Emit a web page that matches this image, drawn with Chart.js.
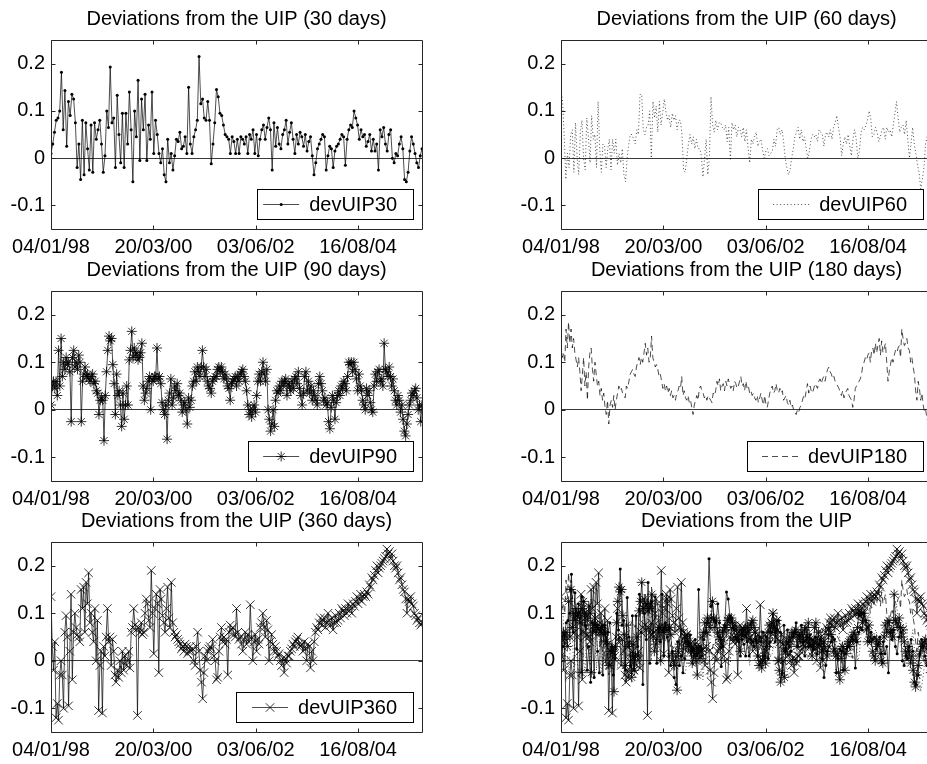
<!DOCTYPE html>
<html lang="en">
<head>
  <meta charset="UTF-8" />
  <title>Deviations from the UIP</title>
  <script src="https://cdn.jsdelivr.net/npm/chart.js"></script>
  <style>
    html, body { margin: 0; padding: 0; background: #fff; }
    body { width: 927px; height: 764px; position: relative; overflow: hidden; }
    canvas { position: absolute; }
  </style>
</head>
<body>
  <canvas id="p30" width="460" height="270" style="left:0;top:0"></canvas>
  <canvas id="p60" width="460" height="270" style="left:510px;top:0"></canvas>
  <canvas id="p90" width="460" height="270" style="left:0;top:251px"></canvas>
  <canvas id="p180" width="460" height="270" style="left:510px;top:251px"></canvas>
  <canvas id="p360" width="460" height="270" style="left:0;top:502px"></canvas>
  <canvas id="pall" width="460" height="270" style="left:510px;top:502px"></canvas>

  <script>
    // sample runs from SERIES_START to SERIES_END, equally spaced
    const SERIES_START = '04/01/98';
    const SERIES_END = '01/01/06';
    const X_TICK_LABELS = ['04/01/98', '20/03/00', '03/06/02', '16/08/04'];
    const Y_TICKS = [-0.1, 0, 0.1, 0.2];
    const Y_MIN = -0.15, Y_MAX = 0.25;

    const DEV_UIP30 = [
      0.01, 0.03, 0.055, 0.08, 0.085, 0.10, 0.182, 0.06, 0.143, 0.025,
      0.12, 0.09, 0.135, 0.125, 0.075, -0.02, 0.03, -0.045, 0.08, -0.035,
      0.075, 0.02, -0.025, 0.07, -0.03, 0.075, 0.04, 0.06, 0.08, 0.03,
      -0.03, 0.005, 0.10, 0.065, 0.193, 0.075, 0.085, -0.02, 0.133, 0.05,
      -0.01, 0.095, -0.02, 0.095, 0.03, 0.14, 0.06, -0.05, 0.10, 0.045,
      0.165, -0.005, 0.125, 0.06, 0.135, -0.005, 0.07, 0.04, 0.14, 0.01,
      0.08, 0.05, 0.01, -0.01, 0.02, -0.035, -0.05,
      0.04, -0.01, 0.01, -0.025, 0.005, 0.04, 0.035, 0.055, 0.02, 0.025,
      0.045, 0.01, 0.15, 0.03, 0.01, 0.045, 0.06, 0.08, 0.215, 0.115,
      0.125, 0.085, 0.08, 0.12, 0.08, -0.012, 0.03, 0.075, 0.145, 0.13,
      0.095, 0.09, 0.07, 0.05, 0.045, 0.04, 0.01, 0.045, 0.035, 0.01,
      0.04, 0.01, 0.045, 0.04,
      0.03, 0.045, 0.01, 0.05, 0.04, 0.06, 0.01, 0.05, 0.005, 0.04,
      0.06, 0.07, 0.04, 0.065, 0.085, 0.06, -0.025, 0.075, 0.025, 0.065,
      0.03, 0.02, 0.05, 0.06, 0.08, 0.03, 0.055, 0.075, 0.04, 0.01,
      0.05, 0.03, 0.055, 0.045, 0.025, 0.05, 0.015, 0.035, 0.045, 0.005,
      -0.035, -0.01, 0.02, 0.03, 0.04, 0.05, 0.045, -0.025, 0.005, 0.025,
      0.02, -0.02, 0.015, 0.025, 0.03, 0.04, 0.05, 0.045, -0.015, 0.04,
      0.06, 0.07, 0.065, 0.1, 0.085, 0.07, 0.04, 0.06, 0.045, 0.05,
      0.025, 0.035, 0.05, 0.015, 0.04, 0.015, 0.03, -0.025, 0.06, 0.045,
      0.065, 0.03, 0.015, 0.05, 0.06, 0.0, -0.01, 0.01, 0.005, 0.03,
      0.045, 0.02, -0.045, -0.05, -0.03, 0.015, 0.045, 0.03, 0.01, -0.01,
      -0.02, 0.005, 0.02
    ];

    const DEV_UIP60 = [
      0.145, 0.12, 0.044, -0.045, 0.01, -0.02, 0.05, 0.06, -0.03, 0.075,
      0.0, -0.035, 0.055, 0.08, 0.0, -0.025, 0.085, 0.045, -0.01, 0.09,
      0.04, 0.05, -0.02, 0.12, 0.02, -0.03, 0.03, 0.025, -0.02, 0.02,
      0.04, -0.025, 0.04, 0.01, 0.04, -0.015, 0.01, -0.01, 0.02, -0.035,
      -0.05, 0.0, 0.03, 0.05, 0.05, 0.04, 0.03, 0.06, 0.05, 0.135,
      0.135, 0.06, 0.05, 0.065, 0.07, 0.1, 0.0, 0.12, 0.085, 0.11,
      0.055, 0.12, 0.07, 0.095, 0.125, 0.1, 0.08, 0.09, 0.065, 0.095,
      0.08, 0.09, 0.06, 0.08, 0.08, 0.05, -0.025, -0.03, 0.0, 0.03,
      0.05, 0.03, 0.045, 0.02, 0.04, 0.02, 0.02, 0.005, -0.04, 0.0,
      0.04, -0.035, 0.0, 0.13, 0.07, 0.055, 0.08, 0.06, 0.075,
      0.075, 0.065, 0.06, 0.07, 0.035, 0.065, -0.005, 0.075, 0.06, 0.07,
      0.045, 0.065, 0.06, 0.045, 0.065, 0.035, 0.06, 0.02, -0.01, 0.04,
      0.03, 0.045, 0.055, 0.025, 0.035, 0.04, 0.015, 0.0, 0.015, 0.02,
      0.005, 0.01, 0.015, 0.04, 0.025, 0.06, 0.065, 0.05, 0.06, 0.035,
      0.0, -0.02, -0.035, -0.025, 0.0, 0.02, 0.045, 0.055, 0.065, 0.04,
      0.06, 0.035, 0.045, 0.02, 0.0, 0.015, 0.04, 0.05, 0.045, 0.05,
      0.035, 0.06, 0.055, 0.05, 0.025, 0.05, 0.055, 0.045, 0.06, 0.04,
      0.065, 0.075, 0.09, 0.065, 0.045, 0.005, 0.03, 0.045, 0.03, 0.05,
      0.025, 0.005, 0.04, 0.06, 0.04, 0.0, 0.015, 0.055, 0.065, 0.06,
      0.07, 0.08, 0.1, 0.085, 0.045, 0.05, 0.065, 0.055, 0.035, 0.045,
      0.06, 0.065, 0.04, 0.065, 0.055, 0.06, 0.045, 0.07, 0.095, 0.12,
      0.085, 0.055, 0.065, 0.07, 0.05, 0.08, 0.04, 0.0, 0.03, 0.065,
      0.03, 0.01, -0.015, -0.03, -0.065, -0.045, -0.02, 0.03, 0.045, 0.06,
      0.04, 0.03
    ];

    const DEV_UIP90 = [
      0.01, 0.05, 0.06, 0.045, 0.06, 0.03, 0.125, 0.05, 0.15, 0.07,
      0.1, 0.085, 0.11, 0.095, 0.1, 0.08, -0.025, 0.11, 0.125, 0.09,
      0.1, 0.085, 0.115, 0.1, -0.025, 0.06, 0.075, 0.09, 0.07, 0.075,
      0.065, 0.06, 0.07, 0.075, 0.055, 0.06, 0.04, 0.035, -0.01, 0.02,
      0.025, 0.02, -0.065, 0.03, 0.08, 0.125, 0.155, 0.145, 0.15, 0.095,
      0.055, -0.01, 0.075, 0.03, 0.04, 0.01, -0.035, 0.035, -0.02, 0.01,
      0.05, 0.01, 0.105, 0.125, 0.165, 0.11, 0.13, 0.115, 0.12, 0.105,
      0.11, 0.12, 0.14, 0.05, 0.02, 0.035, 0.045, 0.06, 0.07, 0.0,
      0.065, 0.06, 0.07, 0.07, 0.13, 0.065, 0.07, 0.055, 0.015, 0.0,
      -0.01, 0.01, -0.062, 0.02, 0.035, 0.065, 0.01, 0.025, 0.05, 0.04,
      0.055, 0.03, 0.035, 0.02, -0.005, 0.01, 0.015, 0.0, -0.03, 0.025,
      0.005, 0.02, 0.05, 0.06, 0.08, 0.06, 0.09, 0.08, 0.07, 0.09,
      0.125, 0.09, 0.07, 0.085, 0.06, 0.05, 0.045, 0.035, 0.06, 0.065,
      0.07, 0.07, 0.085, 0.09, 0.08, 0.09, 0.08, 0.065, 0.075, 0.065,
      0.05, 0.045, 0.02, 0.055, 0.06, 0.065, 0.07, 0.05,
      0.07, 0.06, 0.075, 0.08, 0.085, 0.07, 0.06, 0.04, 0.01, -0.01,
      0.0, -0.015, 0.0, 0.01, -0.005, 0.03, 0.06, 0.075, 0.06, 0.08,
      0.1, 0.075, 0.06, 0.085, 0.0, -0.02, -0.045, -0.03, 0.0, -0.035,
      0.02, 0.04, 0.035, 0.05, 0.04, 0.06, 0.05, 0.06, 0.065, 0.03,
      0.055, 0.05, 0.04, 0.06, 0.045, 0.065, 0.07, 0.055, 0.08, 0.045,
      0.03, 0.01, 0.035, 0.07, 0.08, 0.04, 0.06, 0.035, 0.05, 0.02,
      0.04, 0.03, 0.02, 0.01, 0.055, 0.07, 0.055, 0.04, 0.02, 0.025,
      0.01, 0.015, -0.025, -0.04, 0.005, 0.03, 0.02, -0.02, 0.015, 0.03,
      0.04, 0.03, 0.05, 0.045, 0.06, 0.055, 0.04, 0.07, 0.1, 0.095,
      0.1, 0.08, 0.1, 0.085, 0.065, 0.04, 0.075, 0.05, 0.04, 0.02,
      0.01, 0.0, 0.045, 0.03, 0.04, 0.015, 0.0, -0.005, 0.05, 0.075,
      0.06, 0.08, 0.085, 0.06, 0.065, 0.05, 0.14, 0.085, 0.08, 0.07,
      0.09, 0.07, 0.05, 0.065, 0.04, 0.02, 0.01, 0.03, 0.02, -0.005,
      0.01, -0.02, -0.045, -0.055, -0.03, -0.01, 0.01, 0.02, 0.035, 0.03,
      0.04, 0.045, 0.025, 0.0, 0.01, -0.025, 0.01
    ];

    const DEV_UIP180 = [
      0.14, 0.11, 0.12, 0.1, 0.17, 0.13, 0.185, 0.14, 0.17, 0.13,
      0.15, 0.12, 0.105, 0.09, 0.11, 0.08, 0.04, 0.075, 0.11, 0.05,
      0.08, 0.02, 0.09, 0.12, 0.13, 0.085, 0.06, 0.1, 0.075, 0.05,
      0.06, 0.03, 0.045, 0.02, 0.035, 0.005, -0.01, 0.02, -0.03, 0.01,
      0.02, 0.005, 0.03, 0.0, 0.02, 0.035, 0.05, 0.04, 0.045, 0.035,
      0.03, 0.025, 0.05, 0.045, 0.06, 0.075, 0.08, 0.085, 0.075, 0.07,
      0.09, 0.1, 0.11, 0.095, 0.11, 0.1, 0.12, 0.14, 0.115, 0.13,
      0.1, 0.11, 0.155, 0.11, 0.1, 0.09, 0.095, 0.085, 0.07, 0.075,
      0.06, 0.045, 0.055, 0.04, 0.05, 0.035, 0.045, 0.03, 0.04, 0.025,
      0.03, 0.02, 0.035, 0.04, 0.05, 0.045, 0.07, 0.03, 0.04, 0.025,
      0.02, 0.03, 0.015, 0.02, 0.005, -0.01, 0.01, 0.02, 0.03, 0.02,
      0.045, 0.05, 0.04, 0.035, 0.025, 0.03, 0.02, 0.03, 0.025,
      0.02, 0.015, 0.035, 0.03, 0.04, 0.06, 0.05, 0.065, 0.04, 0.05,
      0.055, 0.04, 0.06, 0.05, 0.065, 0.055, 0.045, 0.05, 0.04, 0.06,
      0.055, 0.045, 0.05, 0.06, 0.07, 0.05, 0.055, 0.04, 0.06, 0.045,
      0.05, 0.035, 0.04, 0.03, 0.035, 0.025, 0.02, 0.03, 0.015, 0.025,
      0.035, 0.02, 0.01, 0.03, 0.01, 0.005, 0.02, 0.035, 0.045, 0.05,
      0.035, 0.04, 0.055, 0.04, 0.035, 0.045, 0.035, 0.04, 0.02, 0.025,
      0.03, 0.015, 0.01, 0.02, 0.005, 0.01, 0.0, -0.005, -0.01, 0.0,
      -0.005, 0.005, 0.01, 0.02, 0.03, 0.025, 0.04, 0.055, 0.035, 0.05,
      0.04, 0.035, 0.045, 0.055, 0.05, 0.045, 0.06, 0.065, 0.055, 0.065,
      0.07, 0.06, 0.075, 0.085, 0.09, 0.08, 0.075, 0.065, 0.07, 0.06,
      0.055, 0.05, 0.045, 0.035, 0.03, 0.04, 0.025, 0.035, 0.04, 0.045,
      0.03, 0.025, 0.02, 0.005, 0.02, 0.045, 0.05, 0.055, 0.06, 0.065,
      0.075, 0.095, 0.1, 0.11, 0.105, 0.115, 0.12, 0.1, 0.125, 0.13,
      0.115, 0.14, 0.12, 0.135, 0.15, 0.115, 0.145, 0.12, 0.13, 0.14,
      0.1, 0.06, 0.08, 0.095, 0.11, 0.1, 0.115, 0.125, 0.12, 0.13,
      0.135, 0.11, 0.17, 0.15, 0.135, 0.14, 0.15, 0.13, 0.125, 0.1,
      0.11, 0.09, 0.075, 0.04, 0.02, 0.06, 0.045, 0.02, 0.035, 0.01,
      -0.005, 0.0, -0.02, -0.025, -0.015, 0.0, -0.01
    ];

    const DEV_UIP360 = [
      0.135, 0.03, -0.02, 0.04, -0.12, -0.09, -0.125, -0.03, 0.0, -0.03,
      -0.1, 0.06, 0.095, 0.05, -0.095, 0.02, 0.14, -0.04, 0.06, 0.1,
      0.07, 0.055, 0.05, 0.04, 0.15, 0.11, 0.155, 0.06, 0.165, 0.12,
      0.185, 0.08, 0.1, 0.06, 0.04, 0.11, 0.0, 0.085, -0.105, -0.01,
      0.02, -0.11, 0.03, 0.01, 0.05, 0.11, 0.04, 0.05, -0.01, 0.045,
      0.02, -0.03, -0.045, -0.02, -0.035, 0.0, -0.025, 0.02, -0.02, 0.01,
      -0.01, 0.0, 0.02, -0.015, 0.06, 0.07, 0.11, 0.075, 0.065, -0.115,
      0.07, 0.06, 0.08, 0.055, 0.06, 0.1, 0.13, 0.12, 0.085, 0.07,
      0.19, 0.1, 0.015, 0.11, 0.14, 0.12, -0.025, 0.15, 0.13, 0.095,
      0.08, 0.06, 0.11, 0.155, 0.09, 0.07, 0.165, 0.08, 0.06, 0.05,
      0.055, 0.045, 0.04, 0.035, 0.025, 0.03, 0.02, 0.035, 0.03, 0.015,
      0.02, 0.03, 0.02, 0.025, 0.0, -0.01, 0.03, 0.06, 0.02, -0.02,
      -0.045, -0.08, -0.025, 0.01, 0.0, 0.02, 0.025, 0.03, 0.025, 0.045,
      0.01, 0.0, -0.04, -0.035, 0.02, 0.05, 0.07, 0.04, 0.05, 0.035,
      0.045, -0.03, 0.06, 0.075, 0.065, 0.07, 0.055, 0.05, 0.11, 0.06,
      0.045,
      0.05, 0.035, 0.02, 0.045, 0.06, 0.035, 0.055, 0.04, 0.118, 0.05,
      0.0, 0.04, 0.055, 0.02, 0.045, 0.035, 0.07, 0.08, 0.1, 0.07,
      0.05, 0.085, 0.065, 0.0, 0.04, 0.055, 0.035, 0.02, 0.03, 0.02,
      0.01, 0.015, 0.0, -0.01, 0.005, -0.025, 0.005, -0.005, 0.01, 0.01,
      0.02, 0.025, 0.035, 0.03, 0.04, 0.045, 0.05, 0.035, 0.03, 0.035,
      0.02, 0.04, 0.025, 0.0, 0.035, 0.03, -0.015, 0.02, 0.0, 0.04,
      0.06, 0.07, 0.065, 0.08, 0.09, 0.075, 0.085, 0.09, 0.07, 0.08,
      0.1, 0.085, 0.075, 0.09, 0.065, 0.08, 0.095, 0.08, 0.085, 0.1,
      0.09, 0.11, 0.105, 0.095, 0.11, 0.1, 0.12, 0.105, 0.115, 0.1,
      0.12, 0.115, 0.125, 0.135, 0.12, 0.13, 0.14, 0.125, 0.135, 0.14,
      0.135, 0.145, 0.14, 0.16, 0.155, 0.175, 0.17, 0.18, 0.19, 0.2,
      0.185, 0.195, 0.2, 0.205, 0.21, 0.215, 0.22, 0.235, 0.225, 0.23,
      0.215, 0.225, 0.21, 0.2, 0.195, 0.2, 0.185, 0.17, 0.175, 0.16,
      0.15, 0.145, 0.13, 0.1, 0.13, 0.125, 0.135, 0.12, 0.115, 0.1,
      0.095, 0.085, 0.09, 0.08, 0.075, 0.08
    ];

    const SERIES = {
      devUIP30: DEV_UIP30,
      devUIP60: DEV_UIP60,
      devUIP90: DEV_UIP90,
      devUIP180: DEV_UIP180,
      devUIP360: DEV_UIP360
    };

    // matlab-ish line specs: '.-', ':', '*-', '--', 'x-'
    const LINE_STYLES = {
      devUIP30: { borderDash: [], pointStyle: 'circle', pointRadius: 1.5, pointBorderWidth: 0, pointBackgroundColor: '#000' },
      devUIP60: { borderDash: [1, 2.5], pointRadius: 0 },
      devUIP90: { borderDash: [], pointStyle: 'star', pointRadius: 5, pointBorderWidth: 0.8 },
      devUIP180: { borderDash: [6, 4], pointRadius: 0 },
      devUIP360: { borderDash: [], pointStyle: 'crossRot', pointRadius: 6, pointBorderWidth: 0.8 }
    };

    const PANELS = [
      { id: 'p30', title: 'Deviations from the UIP (30 days)', series: ['devUIP30'], legendWidth: 156, plotH: 189 },
      { id: 'p60', title: 'Deviations from the UIP (60 days)', series: ['devUIP60'], legendWidth: 165, plotH: 189 },
      { id: 'p90', title: 'Deviations from the UIP (90 days)', series: ['devUIP90'], legendWidth: 165, plotH: 190 },
      { id: 'p180', title: 'Deviations from the UIP (180 days)', series: ['devUIP180'], legendWidth: 176, plotH: 190 },
      { id: 'p360', title: 'Deviations from the UIP (360 days)', series: ['devUIP360'], legendWidth: 177, plotH: 190 },
      { id: 'pall', title: 'Deviations from the UIP', series: ['devUIP30', 'devUIP60', 'devUIP90', 'devUIP180', 'devUIP360'], legendWidth: 0, plotH: 190 }
    ];

    const FONT = "'Liberation Sans', Arial, Helvetica, sans-serif";
    const CANVAS_H = 270, TITLE_H = 40, Y_AXIS_W = 51;

    function toUTC(label) {
      const [d, m, y] = label.split('/').map(Number);
      return Date.UTC(y < 50 ? 2000 + y : 1900 + y, m - 1, d);
    }
    const T0 = toUTC(SERIES_START);
    const dayOf = label => (toUTC(label) - T0) / 86400000;
    const X_MAX = dayOf(SERIES_END);

    function toPoints(values) {
      const step = X_MAX / (values.length - 1);
      return values.map((v, i) => ({ x: i * step, y: v }));
    }

    function makeDataset(key) {
      return Object.assign({
        label: key,
        data: toPoints(SERIES[key]),
        borderColor: '#000',
        borderWidth: 0.7,
        tension: 0,
        pointBorderColor: '#000',
        pointBackgroundColor: 'rgba(0,0,0,0)',
        pointHoverRadius: 0,
        pointHitRadius: 0
      }, LINE_STYLES[key]);
    }

    // axes box with inward ticks on all four sides
    const framePlugin = {
      id: 'frame',
      afterDatasetsDraw(chart) {
        const { ctx, chartArea: a, scales: { x, y } } = chart;
        const L = Math.round(a.left) + 0.5, R = Math.round(a.right) + 0.5;
        const T = Math.round(a.top) + 0.5, B = Math.round(a.bottom) + 0.5;
        ctx.save();
        ctx.strokeStyle = '#262626';
        ctx.lineWidth = 1;
        ctx.beginPath();
        ctx.rect(L, T, R - L, B - T);
        x.ticks.forEach(t => {
          const px = Math.round(x.getPixelForValue(t.value)) + 0.5;
          ctx.moveTo(px, B); ctx.lineTo(px, B - 4);
          ctx.moveTo(px, T); ctx.lineTo(px, T + 4);
        });
        y.ticks.forEach(t => {
          const py = Math.round(y.getPixelForValue(t.value)) + 0.5;
          ctx.moveTo(L, py); ctx.lineTo(L + 4, py);
          ctx.moveTo(R, py); ctx.lineTo(R - 4, py);
        });
        ctx.stroke();
        ctx.restore();
      }
    };

    // boxed legend in the lower right corner of the plot
    const legendPlugin = {
      id: 'boxLegend',
      afterDraw(chart, args, opts) {
        if (!opts || !opts.width) return;
        const { ctx, chartArea: a } = chart;
        const ds = chart.data.datasets[0];
        const h = 30;
        const right = Math.round(a.right) - 9, bottom = Math.round(a.bottom) - 10;
        const left = right - opts.width, top = bottom - h;
        const cy = top + h / 2;
        ctx.save();
        ctx.fillStyle = '#fff';
        ctx.fillRect(left, top, opts.width, h);
        ctx.strokeStyle = '#000';
        ctx.lineWidth = 1;
        ctx.strokeRect(left + 0.5, top + 0.5, opts.width, h);

        ctx.font = '20px ' + FONT;
        ctx.fillStyle = '#000';
        ctx.textAlign = 'right';
        ctx.textBaseline = 'middle';
        const textRight = right - 16;
        ctx.fillText(ds.label, textRight, cy + 1);
        const tw = ctx.measureText(ds.label).width;

        const x1 = textRight - tw - 10, x0 = x1 - 36, ly = Math.round(cy) + 0.5;
        ctx.strokeStyle = ds.borderColor;
        ctx.lineWidth = ds.borderWidth;
        ctx.setLineDash(ds.borderDash || []);
        ctx.beginPath();
        ctx.moveTo(x0, ly);
        ctx.lineTo(x1, ly);
        ctx.stroke();
        ctx.setLineDash([]);

        if (ds.pointRadius > 0 && Chart.helpers && Chart.helpers.drawPoint) {
          ctx.fillStyle = ds.pointBackgroundColor;
          ctx.strokeStyle = ds.pointBorderColor;
          ctx.lineWidth = ds.pointBorderWidth || 0;
          Chart.helpers.drawPoint(ctx, {
            pointStyle: ds.pointStyle, radius: ds.pointRadius,
            borderWidth: ds.pointBorderWidth || 0, rotation: 0
          }, (x0 + x1) / 2, ly);
        }
        ctx.restore();
      }
    };

    Chart.defaults.font.family = FONT;
    Chart.defaults.font.size = 20;
    Chart.defaults.color = '#000';

    PANELS.forEach(p => {
      new Chart(document.getElementById(p.id), {
        type: 'line',
        data: { datasets: p.series.map(makeDataset) },
        options: {
          responsive: false,
          animation: false,
          events: [],
          layout: { padding: { left: 0, right: 38, top: 0, bottom: 0 } },
          plugins: {
            legend: { display: false },
            tooltip: { enabled: false },
            title: {
              display: true,
              text: p.title,
              fullSize: false,
              color: '#000',
              font: { size: 20, weight: 'normal', lineHeight: 1.2 },
              padding: { top: 7, bottom: 9 }
            },
            boxLegend: { width: p.legendWidth }
          },
          scales: {
            x: {
              type: 'linear',
              min: 0,
              max: X_MAX,
              grid: { display: false },
              border: { display: false },
              ticks: {
                padding: -2,
                autoSkip: false,
                maxRotation: 0,
                color: '#000',
                callback: (v, i) => X_TICK_LABELS[i]
              },
              afterBuildTicks: s => { s.ticks = X_TICK_LABELS.map(l => ({ value: dayOf(l) })); },
              afterFit: s => { s.height = CANVAS_H - TITLE_H - p.plotH; }
            },
            y: {
              type: 'linear',
              min: Y_MIN,
              max: Y_MAX,
              grid: {
                drawTicks: false,
                lineWidth: 1,
                color: c => (c.tick && c.tick.value === 0) ? '#3a3a3a' : 'rgba(0,0,0,0)'
              },
              border: { display: false },
              ticks: {
                padding: 6,
                color: '#000',
                callback: v => v === 0 ? '0' : v.toFixed(1)
              },
              afterBuildTicks: s => { s.ticks = Y_TICKS.map(v => ({ value: v })); },
              afterFit: s => { s.width = Y_AXIS_W; }
            }
          }
        },
        plugins: [framePlugin, legendPlugin]
      });
    });
  </script>
</body>
</html>
